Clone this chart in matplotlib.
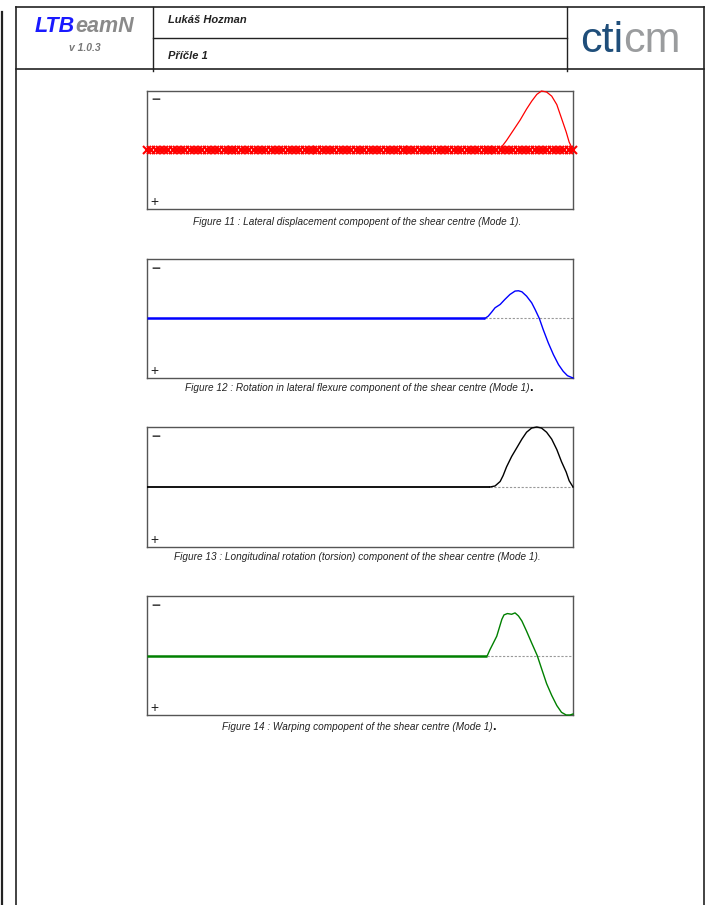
import numpy as np
import matplotlib
matplotlib.use("Agg")
import matplotlib.pyplot as plt
from matplotlib.lines import Line2D

plt.rcParams['font.family'] = ['Liberation Sans', 'DejaVu Sans']

W, H = 710, 905

# beam position (0..1 of the span) and normalised mode shape, "-" is up
pos_lateral = [0.0, 0.827, 0.844, 0.860, 0.876, 0.891, 0.903, 0.915, 0.926, 0.938, 0.950,
               0.962, 0.973, 0.984, 0.991, 1.0]
val_lateral = [0.0, 0.0, -0.162, -0.335, -0.509, -0.694, -0.827, -0.942, -1.0, -0.983, -0.913,
               -0.769, -0.538, -0.306, -0.133, 0.0]

pos_flexure = [0.0, 0.793, 0.801, 0.809, 0.817, 0.829, 0.840, 0.852, 0.864, 0.872, 0.880,
               0.891, 0.903, 0.911, 0.921, 0.930, 0.942, 0.954, 0.966, 0.977, 0.987, 1.0]
val_flexure = [0.0, 0.0, -0.039, -0.107, -0.18, -0.236, -0.32, -0.404, -0.461, -0.466, -0.449,
               -0.376, -0.264, -0.152, 0.0, 0.185, 0.41, 0.607, 0.775, 0.888, 0.961, 1.0]

pos_torsion = [0.0, 0.805, 0.817, 0.829, 0.836, 0.844, 0.856, 0.868, 0.880, 0.891, 0.903,
               0.915, 0.926, 0.938, 0.950, 0.962, 0.973, 0.984, 0.991, 1.0]
val_torsion = [0.0, 0.0, -0.017, -0.092, -0.191, -0.335, -0.509, -0.653, -0.798, -0.913, -0.983,
               -1.0, -0.983, -0.913, -0.798, -0.624, -0.422, -0.249, -0.104, 0.0]

pos_warping = [0.0, 0.799, 0.805, 0.813, 0.821, 0.827, 0.833, 0.838, 0.846, 0.856, 0.864,
               0.872, 0.880, 0.891, 0.903, 0.916, 0.926, 0.938, 0.950, 0.962, 0.973, 0.984,
               0.993, 1.0]
val_warping = [0.0, 0.0, -0.097, -0.21, -0.324, -0.466, -0.608, -0.682, -0.705, -0.693, -0.716,
               -0.665, -0.58, -0.409, -0.21, 0.0, 0.216, 0.472, 0.67, 0.841, 0.955, 1.0,
               1.0, 0.983]

# mesh of the beam (element boundaries, nodes per element)
elem_bounds = [0.0, 0.2, 0.4, 0.6, 0.8, 1.0]
nodes_per_elem = 21

captions = [
    "Figure 11 : Lateral displacement compopent of the shear centre (Mode 1).",
    "Figure 12 : Rotation in lateral flexure component of the shear centre (Mode 1)",
    "Figure 13 : Longitudinal rotation (torsion) component of the shear centre (Mode 1).",
    "Figure 14 : Warping compopent of the shear centre (Mode 1)",
]
bold_dot = [False, True, False, True]

# axes boxes in pixels: top, bottom
boxes = [(91, 209), (259, 378), (427, 547), (596, 715)]
caption_y = [222, 388, 557, 727]
box_left, box_right = 147, 573


def fx(px):
    return px / W


def fy(py):
    return 1 - py / H


fig = plt.figure(figsize=(W / 100, H / 100), dpi=100)
fig.patch.set_facecolor('white')

# page frame
def pline(x0, y0, x1, y1, lw=1.2, c='#222222'):
    fig.add_artist(Line2D([fx(x0), fx(x1)], [fy(y0), fy(y1)], lw=lw, color=c))

pline(2, 12, 2, 905, lw=1.6)
pline(16, 7, 704, 7)
pline(16, 7, 16, 905)
pline(704, 7, 704, 905)
pline(16, 69, 704, 69)
pline(153, 7, 153, 71, lw=1.0)
pline(567, 7, 567, 71, lw=1.0)
pline(153, 38, 567, 38, lw=1.0)

# header texts
t = fig.text(fx(35), fy(26), "LTB", color='#1a1aff', fontsize=15.5, fontweight='bold',
             style='italic', va='center', ha='left')
fig.canvas.draw()
bb = t.get_window_extent()
fig.text(bb.x1 / W + 0.001, fy(26), "eamN", color='#8a8a8a', fontsize=15.5, fontweight='bold',
         style='italic', va='center', ha='left')
fig.text(fx(85), fy(48), "v 1.0.3", color='#777777', fontsize=7.5, fontweight='bold',
         style='italic', va='center', ha='center')
fig.text(fx(168), fy(20), "Lukáš Hozman", color='#222222', fontsize=8, fontweight='bold',
         style='italic', va='center', ha='left')
fig.text(fx(168), fy(56), "Příčle 1", color='#222222', fontsize=8, fontweight='bold',
         style='italic', va='center', ha='left')
t2 = fig.text(fx(580), fy(41), "cti", color='#1f4e7a', fontsize=31, va='center', ha='left')
fig.canvas.draw()
bb2 = t2.get_window_extent()
fig.text(bb2.x1 / W, fy(41), "cm", color='#9a9c9e', fontsize=31, va='center', ha='left')

curves = [
    (pos_lateral, val_lateral, 'red', 0.9),
    (pos_flexure, val_flexure, 'blue', 1.0),
    (pos_torsion, val_torsion, 'black', 1.0),
    (pos_warping, val_warping, 'green', 1.0),
]

for i, ((top, bot), (xs, ys, col, lw)) in enumerate(zip(boxes, curves)):
    ax = fig.add_axes([fx(box_left), fy(bot), (box_right - box_left) / W, (bot - top) / H])
    ax.set_xlim(0, 1)
    ax.set_ylim(1.0, -1.0)
    ax.set_xticks([])
    ax.set_yticks([])
    for s in ax.spines.values():
        s.set_color('#555555')
        s.set_linewidth(1.0)
    xs = np.array(xs)
    ys = np.array(ys)
    if i == 0:
        ax.plot(xs[1:], ys[1:], color=col, lw=lw, clip_on=False, zorder=3)
        nodes = []
        for a, b in zip(elem_bounds[:-1], elem_bounds[1:]):
            nodes.extend(np.linspace(a, b, nodes_per_elem))
        nodes = np.array(nodes)
        ax.plot(nodes, np.zeros_like(nodes), ls='none', marker='x', color='red',
                ms=5.5, mew=1.5, clip_on=False, zorder=4)
    else:
        start = xs[1]
        ax.plot([start, 1], [0, 0], color='#999999', lw=0.8, ls=(0, (2, 1.5)), zorder=2)
        ax.plot(xs[:2], ys[:2], color=col, lw=1.8 if i != 2 else 1.3, zorder=3,
                solid_capstyle='butt')
        ax.plot(xs[1:], ys[1:], color=col, lw=lw, clip_on=False, zorder=3)
    ax.text(0.01, 0.92, "\u2212", transform=ax.transAxes, fontsize=11, color='#444444',
            fontweight='bold', va='center', ha='left')
    ax.text(0.008, 0.06, "+", transform=ax.transAxes, fontsize=10, color='#222222',
            va='center', ha='left')
    ct = fig.text(fx(357), fy(caption_y[i]), captions[i], fontsize=7.2, style='italic',
                  color='#222222', ha='center', va='center')
    if bold_dot[i]:
        fig.canvas.draw()
        cb = ct.get_window_extent()
        fig.text(cb.x1 / W, fy(caption_y[i]), ".", fontsize=9, fontweight='bold',
                 color='#111111', ha='left', va='center')

fig.savefig("out.png", dpi=100)
